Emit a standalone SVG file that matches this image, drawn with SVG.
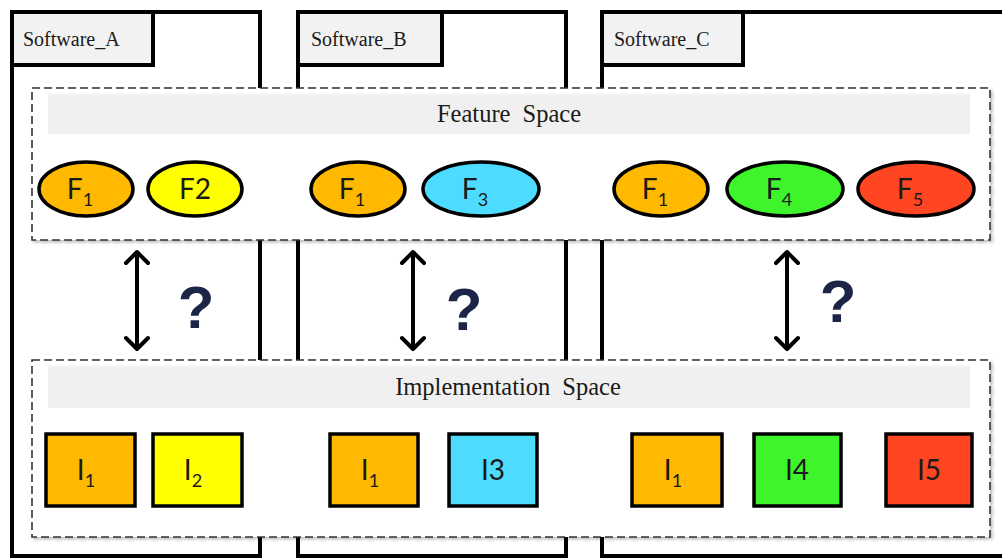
<svg xmlns="http://www.w3.org/2000/svg" width="1002" height="559" viewBox="0 0 1002 559">
<defs>
<style>
.frame{fill:#fff;stroke:#000;stroke-width:4}
.tab{fill:#f2f2f2;stroke:#000;stroke-width:4}
.tabtxt{font-family:"Liberation Serif",serif;font-size:20px;fill:#1a1a1a}
.space{fill:#fff;stroke:#333;stroke-width:1.6;stroke-dasharray:8 4}
.band{fill:#f0f0f0}
.spacetxt{font-family:"Liberation Serif",serif;font-size:24.5px;fill:#1a1a1a;text-anchor:middle;word-spacing:6px}
.node{stroke:#000;stroke-width:3.5}
.lbl{font-family:Lato,"Open Sans",sans-serif;font-size:28px;fill:#1a1a1a;text-anchor:middle}
.sub{font-size:18px}
.arrow{fill:none;stroke:#000;stroke-width:4;stroke-linecap:round;stroke-linejoin:round}
.q{font-family:"Liberation Sans",sans-serif;font-weight:bold;font-size:60px;fill:#1c2448;text-anchor:middle}
.orange{fill:#ffb900}
.yellow{fill:#ffff00}
.cyan{fill:#4ddcff}
.green{fill:#3ef52c}
.red{fill:#ff4521}
</style>
<filter id="sh" x="-5%" y="-5%" width="110%" height="115%">
<feDropShadow dx="2" dy="2" stdDeviation="1.5" flood-color="#000" flood-opacity="0.25"/>
</filter>
</defs>

<g id="software_a">
<rect class="frame" x="12" y="12" width="248" height="544"/>
<rect class="tab" x="12" y="12" width="141" height="53"/>
<text class="tabtxt" x="23" y="46">Software_A</text>
</g>
<g id="software_b">
<rect class="frame" x="298" y="12" width="268" height="544"/>
<rect class="tab" x="298" y="12" width="144" height="53"/>
<text class="tabtxt" x="311" y="46">Software_B</text>
</g>
<g id="software_c">
<rect class="frame" x="602" y="12" width="420" height="544"/>
<rect class="tab" x="602" y="12" width="141" height="53"/>
<text class="tabtxt" x="614" y="46">Software_C</text>
</g>

<g id="feature_space">
<rect class="space" x="32" y="88" width="958" height="152" filter="url(#sh)"/>
<rect class="band" x="48" y="94" width="922" height="40"/>
<text class="spacetxt" x="509" y="122">Feature Space</text>
</g>

<g id="implementation_space">
<rect class="space" x="32" y="360" width="958" height="177" filter="url(#sh)"/>
<rect class="band" x="48" y="366" width="922" height="42"/>
<text class="spacetxt" x="508" y="395">Implementation Space</text>
</g>

<g id="fa1"><ellipse class="node orange" cx="86" cy="189" rx="47" ry="27"/><text class="lbl" x="80" y="199">F<tspan class="sub" dy="7">1</tspan></text></g>
<g id="fa2"><ellipse class="node yellow" cx="195" cy="189" rx="47" ry="27"/><text class="lbl" x="195" y="199">F2</text></g>
<g id="fb1"><ellipse class="node orange" cx="358" cy="189" rx="47" ry="27"/><text class="lbl" x="352" y="199">F<tspan class="sub" dy="7">1</tspan></text></g>
<g id="fb3"><ellipse class="node cyan" cx="481" cy="189" rx="58" ry="27"/><text class="lbl" x="475" y="199">F<tspan class="sub" dy="7">3</tspan></text></g>
<g id="fc1"><ellipse class="node orange" cx="661" cy="189" rx="47" ry="27"/><text class="lbl" x="655" y="199">F<tspan class="sub" dy="7">1</tspan></text></g>
<g id="fc4"><ellipse class="node green" cx="785" cy="189" rx="58" ry="27"/><text class="lbl" x="779" y="199">F<tspan class="sub" dy="7">4</tspan></text></g>
<g id="fc5"><ellipse class="node red" cx="916" cy="189" rx="58" ry="27"/><text class="lbl" x="910" y="199">F<tspan class="sub" dy="7">5</tspan></text></g>

<g id="ia1"><rect class="node orange" x="46" y="434" width="89" height="72"/><text class="lbl" x="86" y="480">I<tspan class="sub" dy="7">1</tspan></text></g>
<g id="ia2"><rect class="node yellow" x="153" y="434" width="89" height="72"/><text class="lbl" x="193" y="480">I<tspan class="sub" dy="7">2</tspan></text></g>
<g id="ib1"><rect class="node orange" x="330" y="434" width="88" height="72"/><text class="lbl" x="370" y="480">I<tspan class="sub" dy="7">1</tspan></text></g>
<g id="ib3"><rect class="node cyan" x="449" y="434" width="88" height="72"/><text class="lbl" x="493" y="480">I3</text></g>
<g id="ic1"><rect class="node orange" x="632" y="434" width="90" height="72"/><text class="lbl" x="673" y="480">I<tspan class="sub" dy="7">1</tspan></text></g>
<g id="ic4"><rect class="node green" x="754" y="434" width="87" height="72"/><text class="lbl" x="797" y="480">I4</text></g>
<g id="ic5"><rect class="node red" x="886" y="434" width="86" height="72"/><text class="lbl" x="929" y="480">I5</text></g>

<g id="connectors">
<path class="arrow" d="M137 252V349M126 263L137 252L148 263M126 338L137 349L148 338"/>
<path class="arrow" d="M413 252V349M402 263L413 252L424 263M402 338L413 349L424 338"/>
<path class="arrow" d="M787 252V349M776 263L787 252L798 263M776 338L787 349L798 338"/>
</g>
<g id="questions">
<text class="q" x="196" y="328">?</text>
<text class="q" x="464" y="330">?</text>
<text class="q" x="838" y="322">?</text>
</g>
</svg>
